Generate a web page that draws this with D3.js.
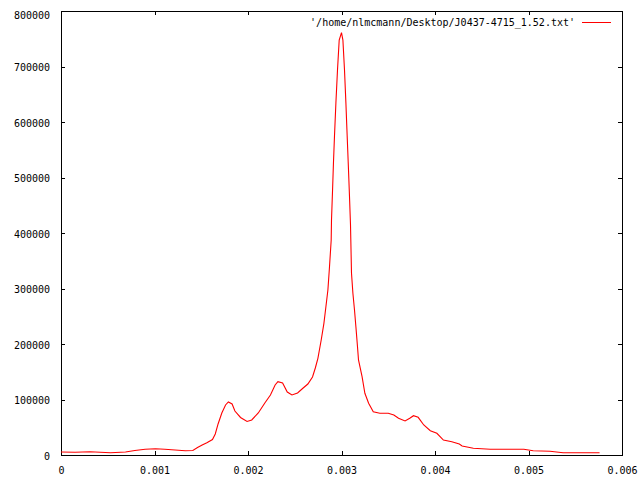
<!DOCTYPE html>
<meta charset="utf-8">
<style>
body { margin: 0; background: #fff; }
text { font-family: "DejaVu Sans Mono", monospace; font-size: 10px; fill: #000; }
</style>
<body>
<script src="https://d3js.org/d3.v7.min.js"></script>
<script>

// data
var xVals = [0.00000, 0.00015, 0.00031, 0.00053, 0.00069, 0.00079, 0.00090, 0.00101, 0.00111, 0.00122,
  0.00133, 0.00141, 0.00146, 0.00151, 0.00156, 0.00162, 0.00165, 0.00168, 0.00172, 0.00176,
  0.00179, 0.00183, 0.00186, 0.00192, 0.00199, 0.00204, 0.00211, 0.00218, 0.00224, 0.00229,
  0.00232, 0.00237, 0.00242, 0.00247, 0.00253, 0.00259, 0.00264, 0.00269, 0.00272, 0.0027476,
  0.0027829, 0.0028118, 0.0028332, 0.0028545, 0.0028717, 0.0028898, 0.0028930, 0.0029037, 0.0029144, 0.0029251,
  0.0029401, 0.0029572, 0.0029754, 0.0030000, 0.0030150, 0.0030321, 0.0030471, 0.0030577, 0.0030749, 0.0030856,
  0.0030963, 0.0031005, 0.0031070, 0.0031219, 0.0031390, 0.0031540, 0.0031711, 0.0031818, 0.00322, 0.00325,
  0.00329, 0.00334, 0.00341, 0.00350, 0.00356, 0.00361, 0.00368, 0.00373, 0.00377, 0.00382,
  0.00388, 0.00395, 0.00402, 0.00409, 0.00418, 0.00426, 0.00429, 0.00441, 0.00459, 0.00477,
  0.00495, 0.00505, 0.00523, 0.00537, 0.00555, 0.00576];
var yVals = [5400, 4900, 5800, 4000, 5400, 8100, 10300, 11200, 10300, 9000,
  7700, 8100, 13500, 18000, 22200, 27900, 37800, 55900, 75700, 90100,
  95500, 91900, 79300, 67600, 60400, 63100, 75700, 93700, 108100, 126100,
  132100, 129700, 113500, 108100, 111700, 120700, 127900, 140500, 156800, 174200,
  207200, 237300, 267200, 297300, 339300, 387400, 423400, 474400, 528500, 575000,
  634200, 693700, 747700, 760900, 747700, 693700, 634200, 587400, 513500, 465400,
  414400, 380000, 327400, 291400, 261300, 231200, 195100, 171200, 141100, 111200,
  93200, 78000, 75100, 75100, 72100, 66100, 61300, 66100, 70800, 67900,
  54100, 43800, 39100, 27000, 24000, 19800, 16200, 12100, 10300, 10300,
  10300, 7700, 6700, 4100, 4100, 4100];
var xTicks = [0, 0.001, 0.002, 0.003, 0.004, 0.005, 0.006];
var yTicks = [0, 100000, 200000, 300000, 400000, 500000, 600000, 700000, 800000];
var seriesName = "'/home/nlmcmann/Desktop/J0437-4715_1.52.txt'";

var margin = {top: 11, right: 18, bottom: 25, left: 61},
    width = 640 - margin.left - margin.right,
    height = 480 - margin.top - margin.bottom;

var x = d3.scaleLinear().domain([0, 0.006]).range([0, width]);
var y = d3.scaleLinear().domain([0, 800000]).range([height, 0]);

var svg = d3.select("body").append("svg")
    .attr("width", 640)
    .attr("height", 480)
  .append("g")
    .attr("transform", "translate(" + margin.left + "," + margin.top + ")");

var tick = 4;

// bottom + top ticks (inward, gnuplot style)
svg.append("g")
    .attr("transform", "translate(0," + height + ")")
    .call(d3.axisBottom(x).tickValues(xTicks).tickSize(-tick).tickPadding(12)
      .tickFormat(function(d) { return d === 0 ? "0" : d3.format(".3f")(d); }))
    .call(function(g) { g.select(".domain").remove(); });
svg.append("g")
    .call(d3.axisTop(x).tickValues(xTicks).tickSize(-tick).tickFormat(""))
    .call(function(g) { g.select(".domain").remove(); });

// left + right ticks
svg.append("g")
    .call(d3.axisLeft(y).tickValues(yTicks).tickSize(-tick).tickPadding(11).tickFormat(d3.format("d")))
    .call(function(g) { g.select(".domain").remove(); })
    .selectAll("text").attr("dy", function(d) { return d === 800000 ? "0.72em" : "0.42em"; });
svg.append("g")
    .attr("transform", "translate(" + width + ",0)")
    .call(d3.axisRight(y).tickValues(yTicks).tickSize(-tick).tickFormat(""))
    .call(function(g) { g.select(".domain").remove(); });

svg.selectAll(".tick line").attr("stroke", "#000").attr("shape-rendering", "crispEdges");
svg.selectAll(".tick text").style("font-family", "DejaVu Sans Mono").style("font-size", "10px");

// border
svg.append("rect")
    .attr("x", 0).attr("y", 0)
    .attr("width", width).attr("height", height)
    .attr("fill", "none").attr("stroke", "#000")
    .attr("shape-rendering", "crispEdges");

// the curve
var data = xVals.map(function(d, i) { return {x: d, y: yVals[i]}; });
var line = d3.line()
    .x(function(d) { return x(d.x); })
    .y(function(d) { return y(d.y); });

svg.append("path")
    .datum(data)
    .attr("fill", "none")
    .attr("stroke", "#ff0000")
    .attr("stroke-width", 1.1)
    .attr("d", line);

// legend
svg.append("text")
    .attr("x", 575 - margin.left)
    .attr("y", 26 - margin.top)
    .attr("text-anchor", "end")
    .text(seriesName);
svg.append("line")
    .attr("x1", 582 - margin.left).attr("x2", 611 - margin.left)
    .attr("y1", 22.5 - margin.top).attr("y2", 22.5 - margin.top)
    .attr("stroke", "#ff0000");

</script>
</body>
